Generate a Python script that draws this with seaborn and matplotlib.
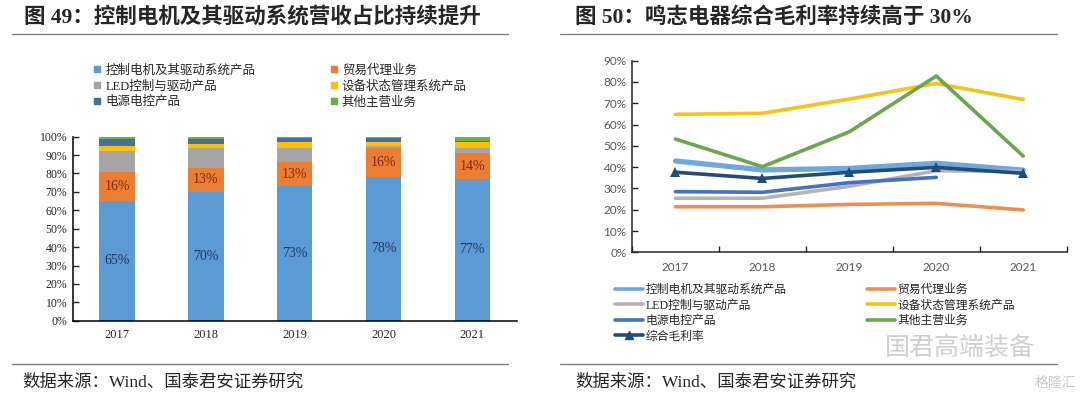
import numpy as np
import pandas as pd
import matplotlib
matplotlib.use("Agg")
import matplotlib.pyplot as plt
import seaborn as sns
from matplotlib.lines import Line2D
from matplotlib.ticker import PercentFormatter

sns.set_style("white")
plt.rcParams['font.family'] = ['Liberation Serif', 'Noto Sans CJK SC']
plt.rcParams['axes.unicode_minus'] = False

# ---- 图49 数据 (营收占比, %) ----
years = ['2017', '2018', '2019', '2020', '2021']
seg_names = ['控制电机及其驱动系统产品', '贸易代理业务', 'LED控制与驱动产品',
             '设备状态管理系统产品', '电源电控产品', '其他主营业务']
share_ctrl = [65, 70, 73, 78, 77]
share_trade = [16, 13, 13, 16, 14]
share_led = [11, 11, 8, 1, 3]
share_equip = [3, 2, 3, 2, 3]
share_power = [4, 3, 2.5, 2.5, 0.5]
share_other = [1, 1, 0.5, 0.5, 2.5]
bar_colors = ['#5B9BD5', '#ED7D31', '#A5A5A5', '#FFC000', '#44709F', '#70AD47']

# ---- 图50 数据 (毛利率, %) ----
gm_years = [2017, 2018, 2019, 2020, 2021]
gm_names = ['控制电机及其驱动系统产品', '贸易代理业务', 'LED控制与驱动产品',
            '设备状态管理系统产品', '电源电控产品', '其他主营业务', '综合毛利率']
gm_ctrl = [42.9, 38.7, 39.4, 41.8, 38.6]
gm_trade = [21.4, 21.4, 22.5, 23.0, 19.9]
gm_led = [25.4, 25.4, 31.0, 38.3, 38.0]
gm_equip = [64.8, 65.3, 72.0, 79.3, 71.8]
gm_power = [28.5, 28.2, 32.7, 35.2, np.nan]
gm_other = [53.2, 40.2, 56.6, 82.8, 45.2]
gm_total = [37.6, 34.7, 37.6, 39.9, 37.1]
line_colors = ['#6FA8DC', '#EE8E50', '#B4B4B4', '#F7C31A', '#4472C4', '#6AA84F', '#1F4E79']

W, H = 1080, 396
fig = plt.figure(figsize=(W / 100, H / 100), dpi=100)

# ---------------- 左图: 堆叠柱状 ----------------
ax1 = fig.add_axes([72.7 / W, 1 - 320.7 / H, 444 / W, (320.7 - 136.7) / H])
layers = [share_ctrl, share_trade, share_led, share_equip, share_power, share_other]
cum = np.cumsum(np.array(layers, dtype=float), axis=0) / 100
for i in range(len(layers) - 1, -1, -1):
    sns.barplot(x=years, y=cum[i], color=bar_colors[i], width=0.4, linewidth=0,
                saturation=1, errorbar=None, ax=ax1, zorder=2)

for i, y in enumerate(years):
    ax1.text(i, share_ctrl[i] / 200, f'{share_ctrl[i]}%', ha='center', va='center',
             fontsize=10, color='#1F3864')
    ax1.text(i, (share_ctrl[i] + share_trade[i] / 2) / 100, f'{share_trade[i]}%',
             ha='center', va='center', fontsize=10, color='#7B2C0C')

ax1.set_ylim(0, 1)
ax1.set_xlim(-0.5, 4.5)
ax1.set_yticks(np.arange(0, 1.01, 0.1))
ax1.yaxis.set_major_formatter(PercentFormatter(1, decimals=0))
ax1.set_xticks(np.arange(-0.5, 4.6, 1), minor=True)
ax1.tick_params(axis='x', which='major', length=0, labelsize=9, pad=6)
ax1.tick_params(axis='x', which='minor', direction='in', length=4, width=1)
ax1.tick_params(axis='y', direction='in', length=4, width=1, labelsize=8.5, pad=4, left=True)
ax1.set_xlabel('')
ax1.set_ylabel('')
for s in ['top', 'right']:
    ax1.spines[s].set_visible(False)
for s in ['left', 'bottom']:
    ax1.spines[s].set_color('#000000')
    ax1.spines[s].set_linewidth(1.1)

h1 = [Line2D([], [], ls='', marker='s', markersize=4.5, color=c) for c in bar_colors]
order = [0, 2, 4, 1, 3, 5]
fig.legend([h1[k] for k in order], [seg_names[k] for k in order], ncol=2,
           loc='upper left', bbox_to_anchor=(88 / W, 1 - 58 / H), frameon=False,
           fontsize=9, handlelength=0.5, handletextpad=0.4, columnspacing=6.0,
           labelspacing=0.3, borderpad=0)

# ---------------- 右图: 折线 ----------------
ax2 = fig.add_axes([632 / W, 1 - 252.3 / H, 434.7 / W, (252.3 - 60.7) / H])
series = [gm_ctrl, gm_trade, gm_led, gm_equip, gm_power, gm_other, gm_total]
widths = [3.8, 2.6, 2.6, 2.6, 2.6, 2.6, 2.6]
for k, vals in enumerate(series):
    mk = '^' if k == 6 else None
    sns.lineplot(x=gm_years, y=vals, color=line_colors[k], lw=widths[k], ax=ax2,
                 marker=mk, markersize=7, markeredgewidth=0, zorder=3 + k)

ax2.set_ylim(0, 90)
ax2.set_xlim(2016.5, 2021.5)
ax2.set_yticks(np.arange(0, 91, 10))
ax2.yaxis.set_major_formatter(PercentFormatter(100, decimals=0))
ax2.set_xticks(np.arange(2016.5, 2021.6, 1))
ax2.set_xticklabels([])
ax2.set_xticks(gm_years, minor=True)
ax2.set_xticklabels([str(y) for y in gm_years], minor=True)
ax2.tick_params(axis='x', which='major', direction='in', length=4, width=1, bottom=True)
ax2.tick_params(axis='x', which='minor', length=0, labelsize=8.5, pad=7, labelcolor='#595959')
ax2.tick_params(axis='y', direction='in', length=4, width=1, labelsize=8.5, pad=4,
                labelcolor='#595959', left=True)
for lab in ax2.get_xticklabels(minor=True) + ax2.get_yticklabels():
    lab.set_family(['Lato', 'DejaVu Sans'])
ax2.set_xlabel('')
ax2.set_ylabel('')
for s in ['top', 'right']:
    ax2.spines[s].set_visible(False)
for s in ['left', 'bottom']:
    ax2.spines[s].set_color('#262626')
    ax2.spines[s].set_linewidth(1.1)

h2 = []
for k in range(7):
    if k == 6:
        h2.append(Line2D([], [], color=line_colors[k], lw=2.6, marker='^', markersize=6))
    else:
        h2.append(Line2D([], [], color=line_colors[k], lw=2.6))
order2 = [0, 2, 4, 6, 1, 3, 5]
fig.legend([h2[k] for k in order2], [gm_names[k] for k in order2], ncol=2,
           loc='upper left', bbox_to_anchor=(609 / W, 1 - 278 / H), frameon=False,
           fontsize=8.5, handlelength=2.4, handletextpad=0.2, columnspacing=6.8,
           labelspacing=0.3, borderpad=0)

# ---------------- 标题与来源 ----------------
fig.text(24 / W, 1 - 17 / H, '图 49：控制电机及其驱动系统营收占比持续提升',
         fontsize=15.5, fontweight='bold', va='center', ha='left')
fig.text(575 / W, 1 - 17 / H, '图 50：鸣志电器综合毛利率持续高于 30%',
         fontsize=15.5, fontweight='bold', va='center', ha='left')
for x0, x1 in [(12, 508), (560, 1057)]:
    fig.add_artist(Line2D([x0 / W, x1 / W], [1 - 34 / H] * 2, color='#7F7F7F', lw=1))
    fig.add_artist(Line2D([x0 / W, x1 / W], [1 - 364 / H] * 2, color='#7F7F7F', lw=1))
fig.text(22 / W, 1 - 383 / H, '数据来源：Wind、国泰君安证券研究', fontsize=12.5, va='center')
fig.text(575 / W, 1 - 383 / H, '数据来源：Wind、国泰君安证券研究', fontsize=12.5, va='center')

# 水印
fig.text(885 / W, 1 - 348 / H, '国君高端装备', fontsize=18, color='#CFCFCF', va='center',
         family=['Noto Sans CJK SC'])
fig.text(1076 / W, 1 - 383 / H, '格隆汇', fontsize=10, color='#C9C9C9', va='center',
         ha='right', family=['Noto Sans CJK SC'])

fig.savefig('out.png', dpi=100)
